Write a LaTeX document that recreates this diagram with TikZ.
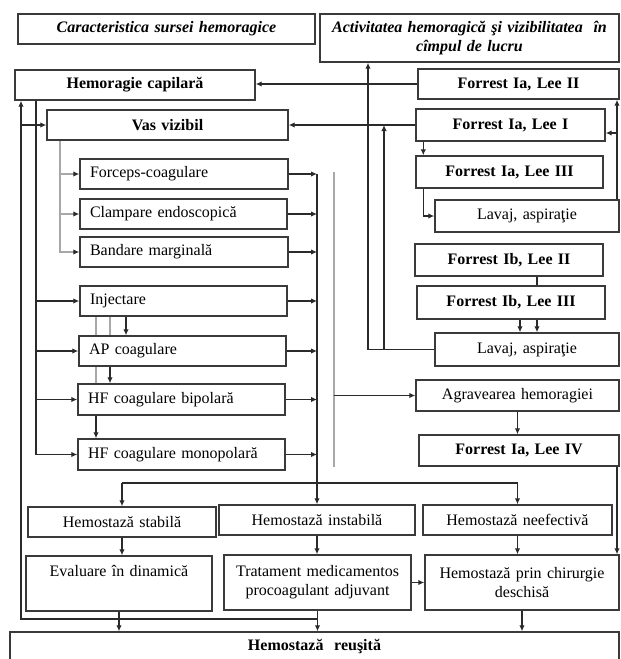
\documentclass[tikz,border=0pt]{standalone}
\usepackage{fontspec}
\setmainfont{Liberation Serif}
\usetikzlibrary{arrows.meta,backgrounds,calc}
\definecolor{boxc}{HTML}{3A3A3A}
\definecolor{linec}{HTML}{2A2A2A}
\definecolor{lightc}{HTML}{A8A8A8}
\newcommand\mybox[7][]{%
 \pgfmathsetmacro\bw{#5-#3}\pgfmathsetmacro\bh{#6-#4}\pgfmathsetmacro\tw{#5-#3-20}%
 \node[box,minimum width=\bw pt,minimum height=\bh pt,text width=\tw pt,#1] (#2) at ({(#3+#5)/2},{(#4+#6)/2}) {#7};}
\begin{document}
\begin{tikzpicture}[x=1pt,y=-1pt,
 box/.style={draw=boxc,line width=1.4pt,fill=white,inner xsep=10pt,inner ysep=0pt,
   font=\fontsize{16}{19}\selectfont,align=center},
 bb/.style={font=\fontsize{16}{19}\selectfont\bfseries},
 hd/.style={font=\fontsize{16}{19}\selectfont\bfseries\itshape},
 lft/.style={align=left},
 ln/.style={draw=linec,line width=1.2pt},
 lg/.style={draw=lightc,line width=1.2pt},
 arr/.style={ln,-{Latex[length=6pt,width=5.5pt]}},
 arrg/.style={lg,-{Latex[length=6pt,width=5.5pt,color=linec]}},
]
\useasboundingbox (0,0) rectangle (621,659);
\mybox[hd]{car}{18}{14}{315}{44}{Caracteristica sursei hemoragice}
\mybox[hd,inner xsep=2pt,text width=295pt]{act}{320}{14}{619}{62}{Activitatea hemoragică şi vizibilitatea\ \ în\\ cîmpul de lucru}
\mybox[bb]{hc}{15}{70}{255}{100}{Hemoragie capilară}
\mybox[bb]{fl2}{418}{69}{619}{99}{Forrest Ia, Lee II}
\mybox[bb]{vv}{47}{110}{288}{140}{Vas vizibil}
\mybox[bb]{fl1}{416}{109}{605}{141}{Forrest Ia, Lee I}
\mybox[bb]{fl3}{416}{156}{603}{188}{Forrest Ia, Lee III}
\mybox{la1}{435}{200}{619}{232}{Lavaj, aspiraţie}
\mybox[bb]{fb2}{415}{244}{603}{276}{Forrest Ib, Lee II}
\mybox[bb]{fb3}{417}{286}{605}{319}{Forrest Ib, Lee III}
\mybox{la2}{435}{333}{619}{366}{Lavaj, aspiraţie}
\mybox{ag}{416}{380}{619}{411}{Agravearea hemoragiei}
\mybox[bb]{f4}{419}{435}{619}{466}{Forrest Ia, Lee IV}
\mybox[lft]{fc}{80}{159}{288}{189}{Forceps-coagulare}
\mybox[lft]{ce}{80}{199}{287}{229}{Clampare endoscopică}
\mybox[lft]{bm}{80}{237}{288}{267}{Bandare marginală}
\mybox[lft]{inj}{80}{286}{287}{316}{Injectare}
\mybox[lft]{ap}{79}{336}{286}{366}{AP coagulare}
\mybox[lft]{hb}{78}{384}{285}{415}{HF coagulare bipolară}
\mybox[lft]{hm}{78}{439}{285}{470}{HF coagulare monopolară}
\mybox{hs}{28}{507}{216}{537}{Hemostază stabilă}
\mybox{hi}{219}{505}{415}{535}{Hemostază instabilă}
\mybox{hn}{423}{505}{612}{535}{Hemostază neefectivă}
\mybox{ev}{26}{556}{212}{611}{Evaluare în dinamică\\\strut}
\mybox{tr}{224}{555}{411}{610}{Tratament medicamentos\\ procoagulant adjuvant}
\mybox{ch}{425}{555}{619}{610}{Hemostază prin chirurgie\\ deschisă}
\mybox[bb]{hr}{10}{632}{619}{662}{Hemostază\ \ reuşită}
\begin{pgfonlayer}{background}
\coordinate (xL) at (21,0);
\coordinate (xM) at (36,0);
\coordinate (xV) at (60,0);
\coordinate (x1) at (126,0);
\coordinate (x2) at (110,0);
\coordinate (x3) at (96,0);
\coordinate (xA) at (368,0);
\coordinate (xB) at (384,0);
\coordinate (xR) at (617,0);
\coordinate (yJ) at (0,619);
\coordinate (yH) at (0,483);
\coordinate (g1) at (334,172);
\coordinate (g2) at (334,467);
\coordinate (pf) at ([yshift=-8pt]fl1.east);
% left feedback and buses
\draw[arr] (tr.south |- yJ) -| (xL |- hc.south);
\draw[arr] (xL |- vv.west) -- (vv.west);
\draw[arr] (xM |- hc.south) |- (hm.west);
\foreach \n in {inj,ap,hb} \draw[arr] (xM |- \n.west) -- (\n.west);
\draw[arrg] (xV |- vv.south) |- (bm.west);
\foreach \n in {fc,ce} \draw[arrg] (xV |- \n.west) -- (\n.west);
% injectare chain
\draw[arr] (x1 |- inj.south) -- (x1 |- ap.north);
\draw[lg] (x2 |- inj.south) -- (x2 |- ap.north);
\draw[arr] (x2 |- ap.south) -- (x2 |- hb.north);
\draw[lg] (x3 |- inj.south) -- (x3 |- ap.north);
\draw[lg] (x3 |- ap.south) -- (x3 |- hb.north);
\draw[arr] (x3 |- hb.south) -- (x3 |- hm.north);
% bus to outcomes
\draw[arr] (hi.north |- fc.east) -- (hi.north);
\foreach \n in {fc,ce,bm,inj,ap,hb,hm} \draw[arr] (\n.east) -- (\n.east -| hi.north);
\draw[ln] (hs.north |- yH) -- (hn.north |- yH);
\draw[arr] (hs.north |- yH) -- (hs.north);
\draw[arr] (hn.north |- yH) -- (hn.north);
\draw[lg] (g1) -- (g2);
\draw[arr] (g1 |- ag.west) -- (ag.west);
% right column
\draw[arr] (fl2.west) -- (hc.east |- fl2.west);
\draw[arr] (fl1.west) -- (vv.east |- fl1.west);
\draw[arr] (la2.west) -| (xA |- act.south);
\draw[arr] (xB |- la2.west) -- (xB |- fl1.west);
\draw[arr] ([xshift=8pt]fl1.south west) -- ([xshift=8pt]fl1.south west |- fl3.north);
\draw[arr] ([xshift=8pt]fl3.south west) |- (la1.west);
\draw[arr] (xR |- la1.north) -- (xR |- fl2.south);
\draw[arr] (xR |- pf) -- (pf);
\draw[ln] ([xshift=28pt]fb2.south) -- ([xshift=28pt]fb2.south |- fb3.north);
\draw[arr] ([xshift=9pt]fb3.south) -- ([xshift=9pt]fb3.south |- la2.north);
\draw[arr] ([xshift=26pt]fb3.south) -- ([xshift=26pt]fb3.south |- la2.north);
\draw[arr] (ag.south) -- (ag.south |- f4.north);
\draw[arr] (xR |- f4.south) -- (xR |- ch.north);
% bottom
\draw[arr] (hs.south) -- (hs.south |- ev.north);
\draw[arr] (hi.south) -- (hi.south |- tr.north);
\draw[arr] (hn.south) -- (hn.south |- ch.north);
\draw[arr] (tr.east) -- (ch.west |- tr.east);
\draw[arr] (ev.south) -- (ev.south |- hr.north);
\draw[arr] (tr.south) -- (tr.south |- hr.north);
\draw[arr] (ch.south) -- (ch.south |- hr.north);
\end{pgfonlayer}
\end{tikzpicture}
\end{document}
